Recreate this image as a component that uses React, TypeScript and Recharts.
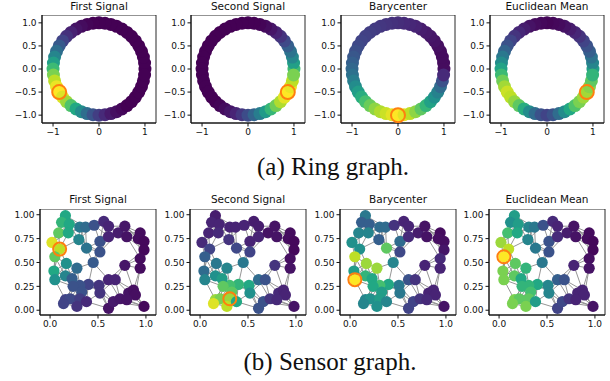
import React from 'react';
import { ScatterChart, Scatter, XAxis, YAxis, ReferenceArea } from 'recharts';

// ---------- Data ----------
const panelTitles = ['First Signal', 'Second Signal', 'Barycenter', 'Euclidean Mean'];
const captions = ['(a) Ring graph.', '(b) Sensor graph.'];

// Ring graph: 48 nodes, node i at angle i*7.5 degrees (counter-clockwise from +x)
const ringFirst = [0, 0, 0, 0, 0, 0, 0, 0, 0, 0, 0, 0, 0, 0, 0.01, 0.03, 0.05, 0.09, 0.14, 0.2, 0.28, 0.36, 0.45, 0.56, 0.68, 0.8, 0.9, 0.97, 1.0, 0.95, 0.85, 0.72, 0.6, 0.48, 0.36, 0.26, 0.18, 0.12, 0.07, 0.04, 0.02, 0, 0, 0, 0, 0, 0, 0];
const ringSecond = [0.68, 0.56, 0.46, 0.38, 0.3, 0.22, 0.15, 0.1, 0.06, 0.03, 0.01, 0, 0, 0, 0, 0, 0, 0, 0, 0, 0, 0, 0, 0, 0, 0, 0, 0, 0, 0, 0, 0.01, 0.03, 0.06, 0.1, 0.16, 0.23, 0.32, 0.42, 0.54, 0.66, 0.78, 0.88, 0.96, 1.0, 0.97, 0.9, 0.8];
const ringBary = [0.04, 0.03, 0.03, 0.03, 0.04, 0.05, 0.06, 0.07, 0.08, 0.1, 0.11, 0.12, 0.13, 0.14, 0.15, 0.16, 0.17, 0.18, 0.19, 0.2, 0.22, 0.24, 0.27, 0.3, 0.33, 0.37, 0.42, 0.48, 0.55, 0.62, 0.7, 0.77, 0.83, 0.88, 0.92, 0.96, 1.0, 0.96, 0.9, 0.83, 0.75, 0.66, 0.57, 0.5, 0.44, 0.35, 0.25, 0.12];
const ringEuclid = [0.55, 0.45, 0.38, 0.3, 0.25, 0.2, 0.15, 0.11, 0.08, 0.05, 0.03, 0.02, 0.01, 0.02, 0.03, 0.05, 0.08, 0.11, 0.15, 0.2, 0.25, 0.32, 0.4, 0.48, 0.58, 0.68, 0.78, 0.86, 0.92, 0.9, 0.84, 0.75, 0.62, 0.48, 0.35, 0.25, 0.2, 0.25, 0.35, 0.48, 0.6, 0.72, 0.8, 0.85, 0.86, 0.82, 0.75, 0.65];
const ringHighlight = [28, 44, 36, 44];
const ringXTicks = [-1, 0, 1];
const ringYTicks = [-1, -0.5, 0, 0.5, 1];

// Sensor graph: node positions and signals
const sensorX = [0.16, 0.12, 0.20, 0.09, 0.19, 0.02, 0.10, 0.05, 0.17, 0.04, 0.05, 0.16, 0.28, 0.30, 0.31, 0.37, 0.38, 0.46, 0.52, 0.52, 0.45, 0.56, 0.61, 0.61, 0.71, 0.78, 0.80, 0.94, 0.92, 0.98, 0.98, 0.94, 0.94, 0.78, 0.61, 0.68, 0.51, 0.40, 0.31, 0.23, 0.24, 0.33, 0.52, 0.16, 0.21, 0.31, 0.14, 0.28, 0.38, 0.61, 0.66, 0.73, 0.82, 0.87, 0.89, 0.98, 0.80];
const sensorY = [0.99, 0.92, 0.90, 0.81, 0.81, 0.71, 0.64, 0.56, 0.49, 0.41, 0.32, 0.36, 0.44, 0.74, 0.87, 0.87, 0.65, 0.89, 0.72, 0.61, 0.50, 0.93, 0.88, 0.77, 0.81, 0.88, 0.77, 0.81, 0.75, 0.72, 0.63, 0.54, 0.44, 0.47, 0.32, 0.32, 0.26, 0.27, 0.26, 0.33, 0.25, 0.19, 0.18, 0.11, 0.12, 0.12, 0.07, 0.04, 0.09, 0.02, 0.09, 0.12, 0.18, 0.21, 0.16, 0.04, 0.11];
const sensorFirst = [0.6, 0.65, 0.6, 0.75, 0.6, 0.95, 0.9, 0.75, 0.5, 0.6, 0.5, 0.45, 0.35, 0.45, 0.4, 0.35, 0.38, 0.25, 0.25, 0.25, 0.28, 0.12, 0.1, 0.1, 0.08, 0.06, 0.05, 0.03, 0.03, 0.02, 0.02, 0.03, 0.03, 0.06, 0.1, 0.1, 0.15, 0.2, 0.25, 0.3, 0.25, 0.25, 0.15, 0.2, 0.22, 0.18, 0.2, 0.15, 0.12, 0.05, 0.07, 0.06, 0.05, 0.04, 0.04, 0.02, 0.05];
const sensorSecond = [0.08, 0.1, 0.1, 0.1, 0.12, 0.12, 0.2, 0.3, 0.4, 0.35, 0.45, 0.5, 0.45, 0.15, 0.1, 0.1, 0.22, 0.1, 0.1, 0.2, 0.4, 0.08, 0.08, 0.1, 0.05, 0.05, 0.05, 0.03, 0.03, 0.02, 0.02, 0.04, 0.05, 0.15, 0.35, 0.25, 0.6, 0.65, 0.7, 0.55, 0.75, 0.75, 0.5, 0.85, 0.8, 0.85, 0.95, 0.9, 0.6, 0.25, 0.25, 0.15, 0.12, 0.1, 0.1, 0.05, 0.12];
const sensorBary = [0.4, 0.3, 0.3, 0.45, 0.45, 0.5, 0.5, 0.9, 0.85, 0.55, 1.0, 0.65, 0.85, 0.3, 0.35, 0.35, 0.75, 0.15, 0.35, 0.22, 0.45, 0.1, 0.1, 0.12, 0.08, 0.05, 0.05, 0.03, 0.04, 0.04, 0.06, 0.12, 0.1, 0.1, 0.25, 0.15, 0.4, 0.6, 0.7, 0.6, 0.6, 0.55, 0.4, 0.45, 0.5, 0.55, 0.45, 0.5, 0.45, 0.2, 0.2, 0.15, 0.1, 0.1, 0.1, 0.05, 0.12];
const sensorEuclid = [0.55, 0.5, 0.55, 0.7, 0.6, 0.85, 0.9, 1.0, 0.75, 0.8, 0.8, 0.75, 0.65, 0.45, 0.45, 0.4, 0.4, 0.25, 0.25, 0.25, 0.4, 0.12, 0.1, 0.12, 0.08, 0.05, 0.05, 0.03, 0.03, 0.02, 0.02, 0.04, 0.05, 0.1, 0.3, 0.25, 0.45, 0.6, 0.65, 0.6, 0.65, 0.7, 0.45, 0.8, 0.75, 0.75, 0.8, 0.8, 0.55, 0.2, 0.22, 0.15, 0.1, 0.1, 0.1, 0.05, 0.1];
const sensorHighlight = [6, 45, 10, 7];
const sensorNeighbours = 6;
const sensorXTicks = [0, 0.5, 1];
const sensorYTicks = [0, 0.25, 0.5, 0.75, 1];

// ---------- Helpers ----------
const VIRIDIS = ['#440154', '#482475', '#414487', '#355f8d', '#2a788e', '#21918c', '#22a884', '#44bf70', '#7ad151', '#bddf26', '#fde725'];
function hexToRgb(h: string) {
  return [parseInt(h.slice(1, 3), 16), parseInt(h.slice(3, 5), 16), parseInt(h.slice(5, 7), 16)];
}
function viridis(v: number) {
  const t = Math.max(0, Math.min(1, v)) * (VIRIDIS.length - 1);
  const i = Math.min(Math.floor(t), VIRIDIS.length - 2);
  const f = t - i;
  const a = hexToRgb(VIRIDIS[i]);
  const b = hexToRgb(VIRIDIS[i + 1]);
  const c = a.map((x, k) => Math.round(x + (b[k] - x) * f));
  return `rgb(${c[0]},${c[1]},${c[2]})`;
}
const fmtMinus = (s: string) => s.replace('-', '\u2212');

const ringPos = ringFirst.map((_, i) => {
  const a = (2 * Math.PI * i) / ringFirst.length;
  return { x: Math.cos(a), y: Math.sin(a) };
});
const ringSignals = [ringFirst, ringSecond, ringBary, ringEuclid];
const sensorSignals = [sensorFirst, sensorSecond, sensorBary, sensorEuclid];

// k-nearest-neighbour edges of the sensor graph
const sensorEdges: [number, number][] = (() => {
  const set = new Set<string>();
  const out: [number, number][] = [];
  for (let i = 0; i < sensorX.length; i++) {
    const d = sensorX.map((x, j) => ({ j, d: (x - sensorX[i]) ** 2 + (sensorY[j] - sensorY[i]) ** 2 })).filter((o) => o.j !== i);
    d.sort((a, b) => a.d - b.d);
    for (let k = 0; k < sensorNeighbours; k++) {
      const j = d[k].j;
      const key = i < j ? `${i}-${j}` : `${j}-${i}`;
      if (!set.has(key)) {
        set.add(key);
        out.push([Math.min(i, j), Math.max(i, j)]);
      }
    }
  }
  return out;
})();

const FONT = 'DejaVu Sans, sans-serif';
const tickStyle = { fontSize: 9, fill: '#111', fontFamily: FONT };

type PanelProps = {
  left: number; top: number; boxW: number; boxH: number;
  xDomain: [number, number]; yDomain: [number, number];
  xTicks: number[]; yTicks: number[];
  xFmt: (v: number) => string; yFmt: (v: number) => string;
  nodes: { x: number; y: number; color: string }[];
  edges: { x: number; y: number }[][];
  r: number; hl: { x: number; y: number }; hlR: number;
};

function Panel(p: PanelProps) {
  const yAxisW = 36;
  const xAxisH = 20;
  const mr = 1;
  return (
    <div style={{ position: 'absolute', left: p.left - yAxisW, top: p.top }}>
      <ScatterChart width={yAxisW + p.boxW + mr} height={p.boxH + xAxisH} margin={{ top: 0, right: mr, bottom: 0, left: 0 }}>
        <XAxis type="number" dataKey="x" domain={p.xDomain} ticks={p.xTicks} interval={0} allowDataOverflow
          tickFormatter={p.xFmt} height={xAxisH} tickSize={3.5} tickMargin={2} stroke="#111" tick={tickStyle} />
        <YAxis type="number" dataKey="y" domain={p.yDomain} ticks={p.yTicks} interval={0} allowDataOverflow
          tickFormatter={p.yFmt} width={yAxisW} tickSize={3.5} tickMargin={2} stroke="#111" tick={tickStyle} />
        {p.edges.map((e, i) => (
          <Scatter key={'e' + i} data={e} fill="#8a8a8a" line={{ stroke: '#8a8a8a', strokeWidth: 0.9 }}
            shape={() => <g />} isAnimationActive={false} />
        ))}
        <Scatter data={p.nodes} isAnimationActive={false}
          shape={(s: any) => <circle cx={s.cx} cy={s.cy} r={p.r} fill={s.payload.color} />} />
        <Scatter data={[p.hl]} isAnimationActive={false}
          shape={(s: any) => <circle cx={s.cx} cy={s.cy} r={p.hlR} fill="none" stroke="#ff7f0e" strokeWidth={2} />} />
        <ReferenceArea x1={p.xDomain[0]} x2={p.xDomain[1]} y1={p.yDomain[0]} y2={p.yDomain[1]}
          fill="none" fillOpacity={0} stroke="#111" strokeWidth={0.9} ifOverflow="visible" />
      </ScatterChart>
    </div>
  );
}

const topLefts = [42, 191, 341, 490];
const botLefts = [40, 190, 340, 489];

export default function App() {
  return (
    <div style={{ position: 'absolute', left: 0, top: 0, width: 610, height: 381, background: '#fff', overflow: 'hidden' }}>
      {ringSignals.map((sig, k) => (
        <Panel key={'r' + k} left={topLefts[k]} top={15} boxW={114} boxH={108}
          xDomain={[-1.24, 1.24]} yDomain={[-1.17, 1.17]} xTicks={ringXTicks} yTicks={ringYTicks}
          xFmt={(v) => fmtMinus(String(v))} yFmt={(v) => fmtMinus(v.toFixed(1))}
          nodes={ringPos.map((q, i) => ({ x: q.x, y: q.y, color: viridis(sig[i]) }))}
          edges={[]} r={6.5} hl={ringPos[ringHighlight[k]]} hlR={7} />
      ))}
      {sensorSignals.map((sig, k) => (
        <Panel key={'s' + k} left={botLefts[k]} top={209} boxW={116} boxH={106}
          xDomain={[-0.105, 1.105]} yDomain={[-0.05, 1.06]} xTicks={sensorXTicks} yTicks={sensorYTicks}
          xFmt={(v) => v.toFixed(1)} yFmt={(v) => v.toFixed(2)}
          nodes={sensorX.map((x, i) => ({ x, y: sensorY[i], color: viridis(sig[i]) }))}
          edges={sensorEdges.map(([a, b]) => [{ x: sensorX[a], y: sensorY[a] }, { x: sensorX[b], y: sensorY[b] }])}
          r={5.6} hl={{ x: sensorX[sensorHighlight[k]], y: sensorY[sensorHighlight[k]] }} hlR={6.5} />
      ))}
      <svg width={610} height={381} style={{ position: 'absolute', left: 0, top: 0, pointerEvents: 'none' }}>
        {panelTitles.map((t, k) => (
          <text key={'tt' + k} x={topLefts[k] + 57} y={9.5} textAnchor="middle" fontFamily={FONT} fontSize={10.5} fill="#111">{t}</text>
        ))}
        {panelTitles.map((t, k) => (
          <text key={'bt' + k} x={botLefts[k] + 58} y={203} textAnchor="middle" fontFamily={FONT} fontSize={10.5} fill="#111">{t}</text>
        ))}
        <text x={333} y={175} textAnchor="middle" fontFamily="Liberation Serif, Times New Roman, serif" fontSize={25} fill="#111">{captions[0]}</text>
        <text x={330} y={370} textAnchor="middle" fontFamily="Liberation Serif, Times New Roman, serif" fontSize={25} fill="#111">{captions[1]}</text>
      </svg>
    </div>
  );
}
